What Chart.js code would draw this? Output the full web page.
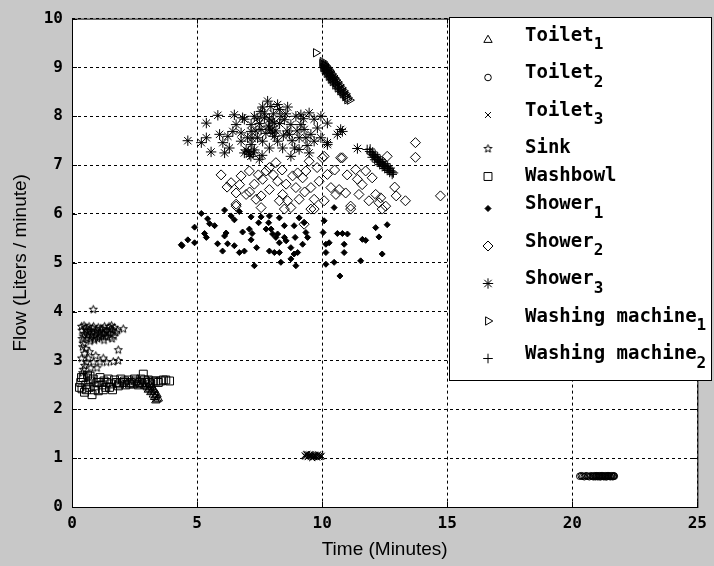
<!DOCTYPE html>
<html>
<head>
<meta charset="utf-8">
<script src="https://cdn.jsdelivr.net/npm/chart.js@4.4.0/dist/chart.umd.min.js"></script>
<style>
html, body { margin: 0; padding: 0; background: #c8c8c8; overflow: hidden; }
</style>
</head>
<body>
<canvas id="myChart" width="714" height="566"></canvas>
<script>
// flow events: time (minutes) vs flow (liters / minute)
const toilet1X = [2.60, 2.70, 2.80, 2.90, 3.00, 3.05, 3.10, 3.15, 3.20, 3.25, 3.30, 3.35, 3.40, 3.45, 3.30, 3.20, 3.10, 3.40, 3.35, 3.28];
const toilet1Y = [2.55, 2.50, 2.52, 2.48, 2.45, 2.40, 2.42, 2.35, 2.38, 2.30, 2.25, 2.28, 2.20, 2.22, 2.35, 2.45, 2.50, 2.30, 2.18, 2.40];

const toilet2X = [20.30, 20.36, 20.42, 20.48, 20.55, 20.62, 20.68, 20.74, 20.80, 20.86, 20.92, 20.98, 21.04, 21.10, 21.16, 21.22, 21.28, 21.34, 21.40, 21.46, 21.52, 21.58, 21.64,
    20.84, 20.90, 20.96, 21.02, 21.08, 21.14, 21.20, 21.26, 21.32, 21.38, 21.44, 21.50, 21.56, 21.62, 21.68, 21.66];
const toilet2Y = [0.63, 0.64, 0.63, 0.62, 0.64, 0.63, 0.62, 0.64, 0.63, 0.63, 0.62, 0.64, 0.63, 0.62, 0.64, 0.63, 0.63, 0.62, 0.64, 0.63, 0.62, 0.63, 0.63,
    0.62, 0.64, 0.63, 0.62, 0.64, 0.62, 0.64, 0.62, 0.64, 0.62, 0.64, 0.63, 0.64, 0.62, 0.63, 0.64];

const toilet3X = [9.30, 9.34, 9.38, 9.42, 9.46, 9.50, 9.54, 9.58, 9.62, 9.66, 9.70, 9.74, 9.78, 9.82, 9.86, 9.90, 9.94, 9.98, 9.40, 9.60, 9.80,
    9.32, 9.36, 9.44, 9.48, 9.52, 9.56, 9.64, 9.68, 9.72, 9.76, 9.84, 9.88, 9.92, 9.96];
const toilet3Y = [1.06, 1.03, 1.07, 1.02, 1.05, 1.08, 1.03, 1.06, 1.02, 1.07, 1.04, 1.05, 1.03, 1.06, 1.04, 1.05, 1.03, 1.05, 1.09, 1.00, 1.01,
    1.04, 1.08, 1.03, 1.07, 1.05, 1.08, 1.04, 1.02, 1.07, 1.03, 1.08, 1.02, 1.07, 1.03];

const sinkX = [0.85, 0.40, 0.45, 0.50, 0.55, 0.60, 0.65, 0.70, 0.72, 0.78, 0.82, 0.88, 0.92, 0.98, 1.02, 1.08, 1.12, 1.18, 1.22, 1.28, 1.32, 1.38, 1.42, 1.48, 1.52, 1.58, 1.62, 1.68, 1.75, 1.82, 0.45, 0.55, 0.50, 0.70, 2.05, 1.85, 1.85, 0.58, 0.85, 1.12, 1.38, 1.65, 0.45, 0.75, 1.00, 0.60,
    0.38, 0.48, 0.58, 0.62, 0.68, 0.75, 0.80, 0.86, 0.90, 0.95, 1.05, 1.10, 1.15, 1.25, 1.30, 1.35, 1.45, 1.55, 1.60, 1.70, 0.40, 0.42, 0.38, 0.65, 0.95, 1.25, 0.50, 0.42];
const sinkY = [4.05, 3.62, 3.50, 3.55, 3.68, 3.45, 3.58, 3.62, 3.40, 3.52, 3.66, 3.48, 3.58, 3.62, 3.45, 3.55, 3.60, 3.50, 3.65, 3.42, 3.58, 3.62, 3.48, 3.70, 3.55, 3.72, 3.62, 3.50, 3.58, 3.62, 3.35, 3.25, 3.15, 3.18, 3.65, 3.22, 3.00, 2.97, 2.97, 2.97, 2.97, 2.98, 2.82, 2.85, 2.85, 2.70,
    3.70, 3.72, 3.62, 3.52, 3.70, 3.45, 3.58, 3.70, 3.42, 3.52, 3.68, 3.48, 3.66, 3.55, 3.70, 3.50, 3.58, 3.65, 3.45, 3.68, 3.45, 3.28, 3.05, 3.05, 3.10, 3.05, 2.90, 2.75];

const washbowlX = [0.35, 0.40, 0.45, 0.50, 0.55, 0.62, 0.68, 0.75, 0.80, 0.85, 0.92, 1.00, 1.05, 1.12, 1.20, 1.28, 1.35, 1.45, 1.55, 1.62, 1.70, 1.78, 1.85, 1.95, 2.05, 2.15, 2.25, 2.35, 2.45, 2.55, 2.65, 2.75, 2.85, 2.95, 3.05, 3.15, 3.25, 3.45, 3.65, 3.90,
    0.30, 0.38, 0.58, 0.72, 0.90, 1.08, 1.25, 1.40, 1.50, 1.90, 2.10, 2.30, 2.50, 2.70, 2.90, 3.10, 3.35, 3.55, 3.75];
const washbowlY = [2.55, 2.42, 2.65, 2.35, 2.50, 2.70, 2.45, 2.58, 2.30, 2.62, 2.48, 2.55, 2.38, 2.65, 2.50, 2.58, 2.45, 2.62, 2.52, 2.40, 2.60, 2.55, 2.48, 2.62, 2.55, 2.50, 2.60, 2.55, 2.52, 2.58, 2.50, 2.62, 2.72, 2.55, 2.60, 2.52, 2.58, 2.55, 2.60, 2.58,
    2.45, 2.65, 2.40, 2.68, 2.40, 2.55, 2.40, 2.55, 2.45, 2.52, 2.58, 2.52, 2.62, 2.55, 2.60, 2.55, 2.58, 2.58, 2.60];

const shower1X = [5.17, 6.10, 5.42, 5.50, 4.90, 5.70, 5.30, 5.37, 4.37, 4.63, 4.90, 6.16, 6.10, 6.22, 5.82, 6.02, 6.49, 6.69, 6.89, 6.82, 6.36, 6.49, 7.16, 7.09, 7.20, 7.16, 7.38, 7.46, 7.56, 7.86, 7.89, 7.76, 7.96, 8.02, 8.22, 8.29, 8.15, 7.89, 8.09, 8.29, 8.35, 7.29, 8.49, 8.56, 8.49, 8.29, 8.88, 8.92, 8.75, 8.88, 8.75, 8.95, 9.02, 9.08, 9.22, 9.35, 9.42, 9.28, 10.08, 10.04, 10.15, 10.15, 10.15, 10.48, 10.48, 10.61, 10.81, 11.01, 10.88, 10.88, 10.28, 10.71, 11.54, 11.61, 11.74, 12.14, 12.27, 12.60, 12.40, 6.69, 4.40];
const shower1Y = [6.01, 6.08, 5.90, 5.80, 5.73, 5.76, 5.60, 5.52, 5.37, 5.47, 5.41, 5.61, 5.55, 5.39, 5.39, 5.24, 5.35, 5.21, 5.24, 5.63, 5.96, 5.88, 5.94, 5.69, 5.60, 5.47, 5.31, 5.82, 5.94, 5.82, 5.96, 5.69, 5.69, 5.59, 5.59, 5.41, 5.52, 5.24, 5.21, 5.21, 5.01, 4.94, 5.52, 5.45, 5.76, 5.92, 5.76, 5.52, 5.31, 5.18, 5.08, 4.94, 5.21, 5.92, 5.38, 5.62, 5.52, 5.82, 5.86, 5.62, 5.38, 5.21, 4.97, 6.13, 5.01, 5.60, 5.60, 5.59, 5.38, 5.21, 5.41, 4.73, 5.04, 5.48, 5.46, 5.72, 5.53, 5.78, 5.18, 6.05, 5.35];

const shower2X = [5.96, 6.36, 6.56, 6.76, 6.96, 7.29, 7.36, 7.56, 6.56, 7.76, 7.89, 8.15, 8.22, 8.42, 8.62, 8.75, 8.95, 9.02, 9.08, 9.35, 9.55, 9.68, 9.48, 10.08, 10.21, 10.35, 10.55, 10.81, 11.34, 11.41, 11.47, 11.14, 11.74, 12.00, 12.14, 12.27, 12.60, 12.96, 13.33, 13.73, 14.73, 7.09, 7.89, 8.29, 8.56, 8.82, 9.22, 9.88, 10.68, 10.94, 11.87, 12.34, 12.54, 7.56, 7.62, 10.08, 9.68, 13.73, 10.74, 10.01, 6.56, 8.49, 9.55, 11.14, 12.40, 9.28, 6.20, 6.70, 7.10, 7.45, 8.05, 8.40, 9.30, 9.80, 10.50, 11.00, 11.60, 12.90];
const shower2Y = [6.80, 6.64, 6.43, 6.78, 6.40, 6.61, 6.30, 6.13, 6.16, 6.88, 6.50, 7.05, 6.67, 6.40, 6.27, 6.13, 6.54, 6.84, 6.30, 6.88, 6.54, 6.30, 7.08, 7.18, 6.81, 6.54, 6.40, 7.15, 6.91, 6.71, 6.40, 6.16, 6.88, 6.74, 6.40, 6.23, 7.18, 6.37, 6.27, 7.16, 6.37, 6.88, 6.95, 6.27, 6.61, 6.78, 6.74, 6.67, 6.50, 6.43, 6.27, 6.33, 6.16, 6.37, 6.71, 6.27, 6.10, 7.46, 7.15, 7.15, 6.20, 6.10, 6.10, 6.10, 6.10, 5.79, 6.55, 6.60, 6.45, 6.80, 6.80, 6.90, 6.45, 6.95, 6.90, 6.80, 6.60, 6.55];

const shower3X = [4.63, 5.17, 5.37, 5.56, 5.37, 5.83, 6.10, 5.90, 6.03, 6.29, 6.49, 6.56, 6.76, 6.89, 6.96, 7.09, 7.16, 7.29, 7.42, 7.49, 7.62, 7.69, 7.82, 7.89, 7.89, 8.02, 8.09, 8.22, 8.29, 8.35, 8.42, 8.62, 8.69, 8.75, 8.95, 9.08, 9.15, 9.28, 9.08, 9.48, 9.48, 9.55, 9.68, 9.81, 9.95, 10.21, 10.21, 10.61, 10.74, 11.41, 9.15, 7.62, 7.02, 6.43, 6.23, 7.16, 7.56, 7.89, 8.75, 9.35, 9.68, 9.95, 6.89, 7.29, 8.22, 8.49, 8.09, 7.16, 6.82, 6.76, 10.81, 10.21, 7.05, 7.15, 7.25, 7.85, 7.95, 8.00, 7.50, 8.60, 8.80, 9.00,
    7.40, 7.55, 7.70, 7.75, 8.15, 8.30, 8.45, 8.55, 7.35, 7.20, 7.95, 8.05, 9.25, 9.40, 8.90, 7.60];
const shower3Y = [7.50, 7.46, 7.56, 7.27, 7.86, 8.02, 7.25, 7.63, 7.46, 7.35, 8.03, 7.83, 7.66, 7.94, 7.31, 7.22, 7.42, 8.00, 7.56, 7.12, 8.19, 7.97, 8.31, 7.76, 7.35, 7.66, 7.86, 7.49, 8.14, 8.00, 7.35, 8.19, 7.63, 7.18, 8.00, 7.56, 7.83, 7.73, 7.32, 8.07, 7.25, 7.63, 7.49, 7.76, 8.00, 7.86, 7.46, 7.63, 7.73, 7.34, 8.03, 7.49, 7.56, 7.69, 7.59, 7.69, 7.73, 7.94, 7.83, 7.56, 7.94, 7.56, 7.25, 7.31, 8.24, 7.93, 7.59, 7.83, 7.97, 7.49, 7.69, 7.42, 7.28, 7.18, 7.25, 7.80, 7.72, 7.90, 7.85, 7.70, 7.50, 7.70,
    7.95, 8.10, 8.05, 7.65, 7.70, 7.85, 7.60, 8.05, 7.70, 7.55, 8.20, 8.05, 7.95, 7.40, 7.35, 7.20];

const washer1X = [9.75, 10.00, 10.05, 10.08, 10.12, 10.15, 10.20, 10.24, 10.28, 10.32, 10.36, 10.40, 10.45, 10.50, 10.55, 10.60, 10.65, 10.70, 10.75, 10.80, 10.85, 10.90, 10.95, 11.02, 11.10, 10.10, 10.20, 10.30, 10.45,
    10.02, 10.08, 10.14, 10.20, 10.26, 10.32, 10.38, 10.44, 10.50, 10.56, 10.62, 10.70, 10.78, 10.86, 10.94, 10.04, 10.10, 10.18, 10.26, 10.34, 10.42, 10.52, 10.62, 10.72, 10.82, 10.92, 11.00];
const washer1Y = [9.30, 9.08, 9.05, 9.00, 8.99, 8.94, 8.92, 8.88, 8.86, 8.82, 8.80, 8.76, 8.74, 8.70, 8.68, 8.63, 8.62, 8.57, 8.55, 8.50, 8.49, 8.44, 8.42, 8.38, 8.33, 9.05, 8.97, 8.90, 8.80,
    9.12, 9.08, 9.04, 9.00, 8.96, 8.92, 8.87, 8.83, 8.78, 8.74, 8.70, 8.64, 8.58, 8.52, 8.46, 9.00, 8.95, 8.88, 8.82, 8.76, 8.71, 8.64, 8.58, 8.52, 8.46, 8.40, 8.34];

const washer2X = [11.80, 11.90, 11.95, 12.00, 12.05, 12.10, 12.15, 12.20, 12.25, 12.30, 12.35, 12.40, 12.45, 12.50, 12.55, 12.60, 12.65, 12.70, 12.75, 12.80, 12.85,
    11.92, 12.02, 12.12, 12.22, 12.32, 12.42, 12.52, 12.62, 12.72, 12.00, 12.10, 12.20, 12.30, 12.40, 12.50, 12.60, 12.70, 12.80];
const washer2Y = [7.32, 7.28, 7.25, 7.22, 7.20, 7.17, 7.15, 7.12, 7.10, 7.07, 7.05, 7.02, 7.00, 6.98, 6.96, 6.93, 6.92, 6.89, 6.88, 6.86, 6.84,
    7.33, 7.27, 7.22, 7.17, 7.12, 7.07, 7.03, 6.98, 6.94, 7.16, 7.11, 7.06, 7.01, 6.97, 6.93, 6.89, 6.85, 6.81];

const seriesNames = ['Toilet', 'Toilet', 'Toilet', 'Sink', 'Washbowl', 'Shower', 'Shower', 'Shower', 'Washing machine', 'Washing machine'];
const seriesSubs = ['1', '2', '3', '', '', '1', '2', '3', '1', '2'];
const xTicks = [0, 5, 10, 15, 20, 25];
const yTicks = [0, 1, 2, 3, 4, 5, 6, 7, 8, 9, 10];

function pairs(xs, ys) {
    var out = [];
    for (var i = 0; i < xs.length; i++) {
        out.push({x: xs[i], y: ys[i]});
    }
    return out;
}

// matlab-ish pentagram for the sink
function makePentagram() {
    var c = document.createElement('canvas');
    c.width = 11; c.height = 11;
    var g = c.getContext('2d');
    g.strokeStyle = '#000';
    g.lineWidth = 1;
    g.beginPath();
    for (var i = 0; i < 10; i++) {
        var r = (i % 2) ? 1.8 : 4.2;
        var a = -Math.PI / 2 + i * Math.PI / 5;
        var px = 5.5 + r * Math.cos(a), py = 5.8 + r * Math.sin(a);
        if (i === 0) g.moveTo(px, py); else g.lineTo(px, py);
    }
    g.closePath();
    g.stroke();
    return c;
}
const pentagram = makePentagram();

const markers = [
    {pointStyle: 'triangle', radius: 4.8, rotation: 0, fill: false},
    {pointStyle: 'circle', radius: 3.3, rotation: 0, fill: false},
    {pointStyle: 'crossRot', radius: 4.2, rotation: 0, fill: false},
    {pointStyle: pentagram, radius: 4, rotation: 0, fill: false},
    {pointStyle: 'rect', radius: 5.6, rotation: 0, fill: false},
    {pointStyle: 'rectRot', radius: 3, rotation: 0, fill: true},
    {pointStyle: 'rectRot', radius: 5, rotation: 0, fill: false},
    {pointStyle: 'star', radius: 5.2, rotation: 0, fill: false},
    {pointStyle: 'triangle', radius: 4.8, rotation: 90, fill: false},
    {pointStyle: 'cross', radius: 4.8, rotation: 0, fill: false}
];

const seriesData = [
    pairs(toilet1X, toilet1Y), pairs(toilet2X, toilet2Y), pairs(toilet3X, toilet3Y),
    pairs(sinkX, sinkY), pairs(washbowlX, washbowlY),
    pairs(shower1X, shower1Y), pairs(shower2X, shower2Y), pairs(shower3X, shower3Y),
    pairs(washer1X, washer1Y), pairs(washer2X, washer2Y)
];

const datasets = seriesData.map(function (d, i) {
    var m = markers[i];
    return {
        label: seriesNames[i] + seriesSubs[i],
        data: d,
        order: 10 - i,
        pointStyle: m.pointStyle,
        pointRadius: m.radius,
        pointRotation: m.rotation,
        pointBorderWidth: 1,
        borderColor: '#000',
        backgroundColor: m.fill ? '#000' : 'rgba(0,0,0,0)',
        pointHoverRadius: m.radius,
        showLine: false
    };
});

const tickFont = {family: 'DejaVu Sans Mono', weight: 'bold', size: 16};
const titleFont = {family: 'Liberation Sans', size: 19, weight: 'normal'};

// gray figure + white axes
const backdrop = {
    id: 'backdrop',
    beforeDraw: function (chart) {
        var ctx = chart.ctx, a = chart.chartArea;
        ctx.save();
        ctx.fillStyle = '#c8c8c8';
        ctx.fillRect(0, 0, chart.width, chart.height);
        ctx.fillStyle = '#fff';
        ctx.fillRect(a.left, a.top, a.right - a.left, a.bottom - a.top);
        ctx.restore();
    }
};

// box, inner ticks and the legend
const frame = {
    id: 'frame',
    afterDraw: function (chart) {
        var ctx = chart.ctx, a = chart.chartArea;
        var sx = chart.scales.x, sy = chart.scales.y;
        ctx.save();
        ctx.strokeStyle = '#000';
        ctx.lineWidth = 1;
        ctx.setLineDash([]);
        ctx.strokeRect(a.left + 0.5, a.top + 0.5, a.right - a.left, a.bottom - a.top);
        ctx.beginPath();
        xTicks.forEach(function (v) {
            var px = Math.round(sx.getPixelForValue(v)) + 0.5;
            ctx.moveTo(px, a.bottom); ctx.lineTo(px, a.bottom - 5);
            ctx.moveTo(px, a.top); ctx.lineTo(px, a.top + 5);
        });
        yTicks.forEach(function (v) {
            var py = Math.round(sy.getPixelForValue(v)) + 0.5;
            ctx.moveTo(a.left, py); ctx.lineTo(a.left + 5, py);
            ctx.moveTo(a.right, py); ctx.lineTo(a.right - 5, py);
        });
        ctx.stroke();

        // legend
        var bx = 449.5, by = 17.5, bw = 262, bh = 363;
        ctx.fillStyle = '#fff';
        ctx.fillRect(bx, by, bw, bh);
        ctx.strokeRect(bx, by, bw, bh);
        var rowY = 36;
        for (var i = 0; i < seriesNames.length; i++) {
            var m = markers[i];
            var hasSub = seriesSubs[i] !== '';
            ctx.fillStyle = m.fill ? '#000' : 'rgba(0,0,0,0)';
            ctx.strokeStyle = '#000';
            ctx.lineWidth = 1;
            Chart.helpers.drawPoint(ctx, {pointStyle: m.pointStyle, radius: m.radius, rotation: m.rotation, borderWidth: 1},
                488, rowY + (hasSub ? 4 : 0));
            ctx.fillStyle = '#000';
            ctx.font = 'bold 19px "DejaVu Sans Mono"';
            ctx.textBaseline = 'middle';
            ctx.textAlign = 'left';
            ctx.fillText(seriesNames[i], 525, rowY);
            if (hasSub) {
                var w = ctx.measureText(seriesNames[i]).width;
                ctx.font = 'bold 16px "DejaVu Sans Mono"';
                ctx.fillText(seriesSubs[i], 525 + w, rowY + 9);
            }
            rowY += hasSub ? 37.5 : 28;
        }
        ctx.restore();
    }
};

const ctx = document.getElementById('myChart').getContext('2d');
const config = {
    type: 'scatter',
    data: {datasets: datasets},
    options: {
        responsive: false,
        animation: false,
        devicePixelRatio: 1,
        events: [],
        layout: {padding: {top: 17, right: 14, left: 0, bottom: 0}},
        plugins: {legend: {display: false}, tooltip: {enabled: false}},
        scales: {
            x: {
                type: 'linear', min: 0, max: 25,
                afterBuildTicks: function (s) { s.ticks = xTicks.map(function (v) { return {value: v}; }); },
                afterFit: function (s) { s.height = 59; },
                ticks: {font: tickFont, color: '#000', padding: 7, maxRotation: 0, autoSkip: false},
                grid: {color: '#000', lineWidth: 1, drawTicks: false},
                border: {display: false, dash: [3, 3]},
                title: {display: true, text: 'Time (Minutes)', font: titleFont, color: '#000', padding: {top: 0, bottom: 5}}
            },
            y: {
                type: 'linear', min: 0, max: 10,
                afterBuildTicks: function (s) { s.ticks = yTicks.map(function (v) { return {value: v}; }); },
                afterFit: function (s) { s.width = 72; },
                ticks: {font: tickFont, color: '#000', padding: 9, autoSkip: false},
                grid: {color: '#000', lineWidth: 1, drawTicks: false},
                border: {display: false, dash: [3, 3]},
                title: {display: true, text: 'Flow (Liters / minute)', font: titleFont, color: '#000', padding: {top: 9, bottom: 0}}
            }
        }
    },
    plugins: [backdrop, frame]
};
const myChart = new Chart(ctx, config);
</script>
</body>
</html>
